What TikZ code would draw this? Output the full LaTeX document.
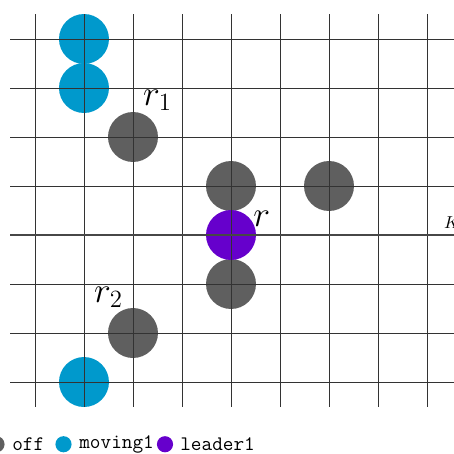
\documentclass[tikz,border=0pt]{standalone}
\definecolor{offgray}{RGB}{95,95,95}
\definecolor{movblue}{RGB}{0,153,204}
\definecolor{leadpurple}{RGB}{102,0,204}
\begin{document}
\begin{tikzpicture}[
  gridline/.style={black!80, line width=0.45pt},
  axisline/.style={black!72, line width=1.5pt},
  agent/.style={circle, minimum size=1.02cm, inner sep=0pt},
  offagent/.style={agent, fill=offgray},
  movagent/.style={agent, fill=movblue},
  leadagent/.style={agent, fill=leadpurple},
  lbl/.style={font=\huge, inner sep=0pt},
  legdot/.style={circle, minimum size=0.33cm, inner sep=0pt},
  legtxt/.style={font=\large\ttfamily, anchor=west, inner sep=0pt},
]
\useasboundingbox (-4.714,-4.449) rectangle (4.551,4.796);
\clip (-4.714,-4.449) rectangle (4.551,4.796);
% agents
\node[movagent] (m1) at (-3,4) {};
\node[movagent] (m2) at (-3,3) {};
\node[movagent] (m3) at (-3,-3) {};
\node[offagent] (o1) at (-2,2) {};
\node[offagent] (o2) at (0,1) {};
\node[offagent] (o3) at (2,1) {};
\node[offagent] (o4) at (0,-1) {};
\node[offagent] (o5) at (-2,-2) {};
\node[leadagent] (l1) at (0,0) {};
% grid
\foreach \x in {-4,...,4} \draw[gridline] (\x,-3.5) -- (\x,4.5);
\foreach \y in {-3,-2,-1,1,2,3,4} \draw[gridline] (-4.5,\y) -- (5,\y);
\draw[axisline] (-4.5,0) -- (5,0);
% labels
\node[lbl] (r1) at (-1.5,2.75) {$r_1$};
\node[lbl] (r) at (0.63,0.33) {$r$};
\node[lbl] (r2) at (-2.5,-1.27) {$r_2$};
\node[anchor=south west, inner sep=0pt] (k) at (4.34,0.12) {$K$};
% legend
\node[legdot, fill=offgray] (lg1) at (-4.786,-4.27) {};
\node[legtxt] (lt1) at (-4.469,-4.27) {off};
\node[legdot, fill=movblue] (lg2) at (-3.418,-4.27) {};
\node[legtxt] (lt2) at (-3.102,-4.27) {moving1};
\node[legdot, fill=leadpurple] (lg3) at (-1.347,-4.27) {};
\node[legtxt] (lt3) at (-1.041,-4.27) {leader1};
\end{tikzpicture}
\end{document}
